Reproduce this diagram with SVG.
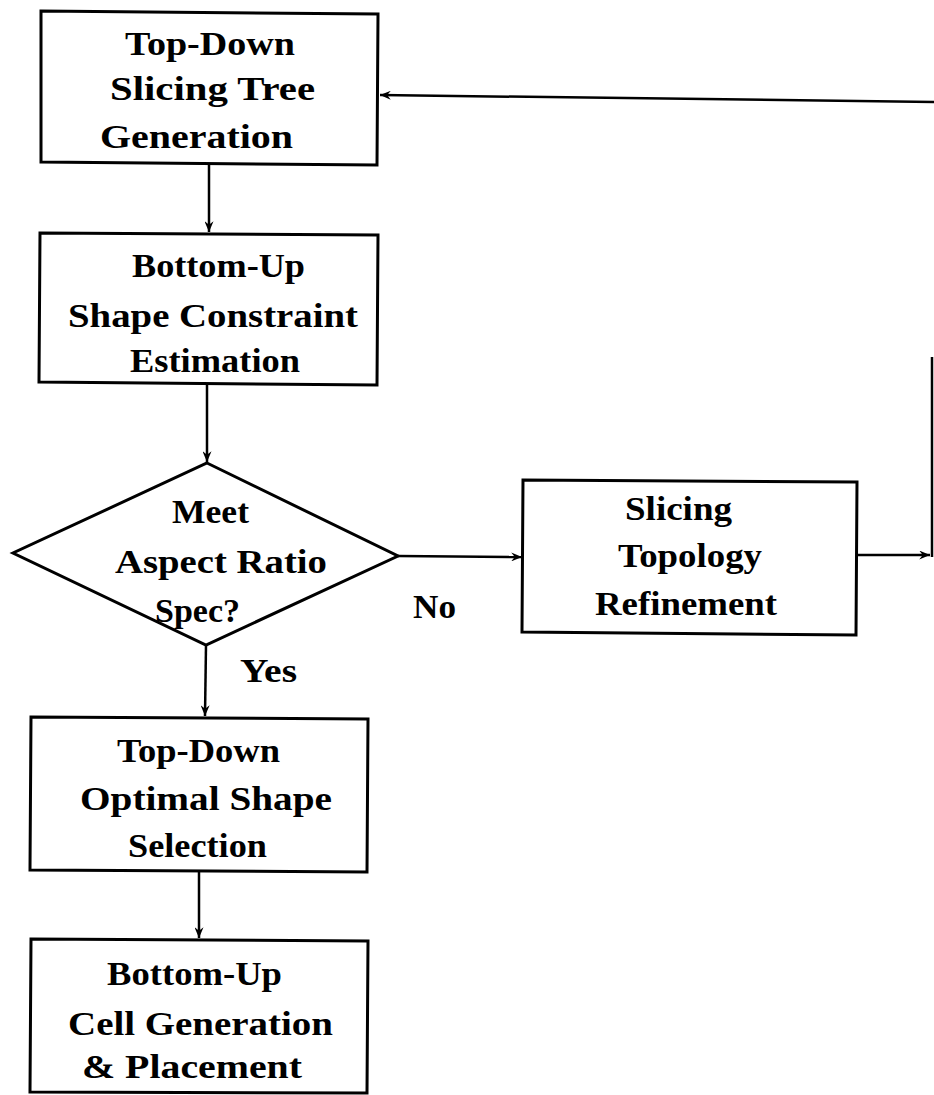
<svg xmlns="http://www.w3.org/2000/svg" width="934" height="1095" viewBox="0 0 934 1095">
  <style>
    .shape { fill: #fff; stroke: #000; stroke-width: 3; stroke-linejoin: miter; }
    .lbl { font-family: "Liberation Serif", "Times New Roman", serif; font-size: 34px; font-weight: bold; fill: #000; }
    .wire { fill: none; stroke: #000; stroke-width: 2.5; }
    .arrow { marker-end: url(#head); }
  </style>
  <defs>
    <marker id="head" viewBox="0 0 12 10" refX="12" refY="5" markerWidth="11" markerHeight="9" markerUnits="userSpaceOnUse" orient="auto">
      <path d="M0,0 L12,5 L0,10 L4,5 Z" fill="#000"/>
    </marker>
  </defs>
  <rect width="934" height="1095" fill="#fff"/>

  <!-- connectors -->
  <g id="connectors">
    <line class="wire arrow" x1="209" y1="165" x2="209" y2="232"/>
    <line class="wire arrow" x1="207" y1="385" x2="207" y2="462"/>
    <line class="wire arrow" x1="398" y1="556" x2="522" y2="557"/>
    <line class="wire arrow" x1="206" y1="645" x2="205" y2="716"/>
    <line class="wire arrow" x1="199" y1="872" x2="199" y2="938"/>
    <line class="wire arrow" x1="857" y1="555" x2="930" y2="555"/>
    <line class="wire" x1="932" y1="357" x2="932" y2="557"/>
    <line class="wire arrow" x1="934" y1="102" x2="380" y2="95"/>
  </g>

  <!-- process boxes and decision -->
  <g id="node-slicing-tree">
    <polygon class="shape" points="41,11 378,14 377,165 41,162"/>
    <text class="lbl" x="125" y="55" textLength="170" lengthAdjust="spacingAndGlyphs">Top-Down</text>
    <text class="lbl" x="110" y="100" textLength="205" lengthAdjust="spacingAndGlyphs">Slicing  Tree</text>
    <text class="lbl" x="100" y="148" textLength="193" lengthAdjust="spacingAndGlyphs">Generation</text>
  </g>

  <g id="node-shape-constraint">
    <polygon class="shape" points="40,233 378,235 377,385 39,382"/>
    <text class="lbl" x="132" y="277" textLength="173" lengthAdjust="spacingAndGlyphs">Bottom-Up</text>
    <text class="lbl" x="68" y="327" textLength="290" lengthAdjust="spacingAndGlyphs">Shape  Constraint</text>
    <text class="lbl" x="130" y="372" textLength="170" lengthAdjust="spacingAndGlyphs">Estimation</text>
  </g>

  <g id="node-aspect-check">
    <polygon class="shape" points="207,463 398,556 206,645 13,553"/>
    <text class="lbl" x="172" y="523" textLength="77" lengthAdjust="spacingAndGlyphs">Meet</text>
    <text class="lbl" x="115" y="573" textLength="212" lengthAdjust="spacingAndGlyphs">Aspect  Ratio</text>
    <text class="lbl" x="155" y="622" textLength="85" lengthAdjust="spacingAndGlyphs">Spec?</text>
  </g>

  <g id="node-topology-refinement">
    <polygon class="shape" points="523,480 857,482 856,635 522,632"/>
    <text class="lbl" x="625" y="520" textLength="107" lengthAdjust="spacingAndGlyphs">Slicing</text>
    <text class="lbl" x="618" y="567" textLength="144" lengthAdjust="spacingAndGlyphs">Topology</text>
    <text class="lbl" x="595" y="615" textLength="182" lengthAdjust="spacingAndGlyphs">Refinement</text>
  </g>

  <g id="node-shape-selection">
    <polygon class="shape" points="31,717 368,719 367,872 30,870"/>
    <text class="lbl" x="117" y="762" textLength="163" lengthAdjust="spacingAndGlyphs">Top-Down</text>
    <text class="lbl" x="80" y="810" textLength="252" lengthAdjust="spacingAndGlyphs">Optimal  Shape</text>
    <text class="lbl" x="128" y="857" textLength="139" lengthAdjust="spacingAndGlyphs">Selection</text>
  </g>

  <g id="node-cell-placement">
    <polygon class="shape" points="31,939 368,941 367,1093 30,1092"/>
    <text class="lbl" x="107" y="985" textLength="175" lengthAdjust="spacingAndGlyphs">Bottom-Up</text>
    <text class="lbl" x="68" y="1035" textLength="265" lengthAdjust="spacingAndGlyphs">Cell  Generation</text>
    <text class="lbl" x="82" y="1078" textLength="220" lengthAdjust="spacingAndGlyphs">&amp;  Placement</text>
  </g>

  <!-- branch labels -->
  <g id="branch-labels">
    <text class="lbl" x="240" y="682" textLength="57" lengthAdjust="spacingAndGlyphs">Yes</text>
    <text class="lbl" x="413" y="618" textLength="43" lengthAdjust="spacingAndGlyphs">No</text>
  </g>
</svg>
